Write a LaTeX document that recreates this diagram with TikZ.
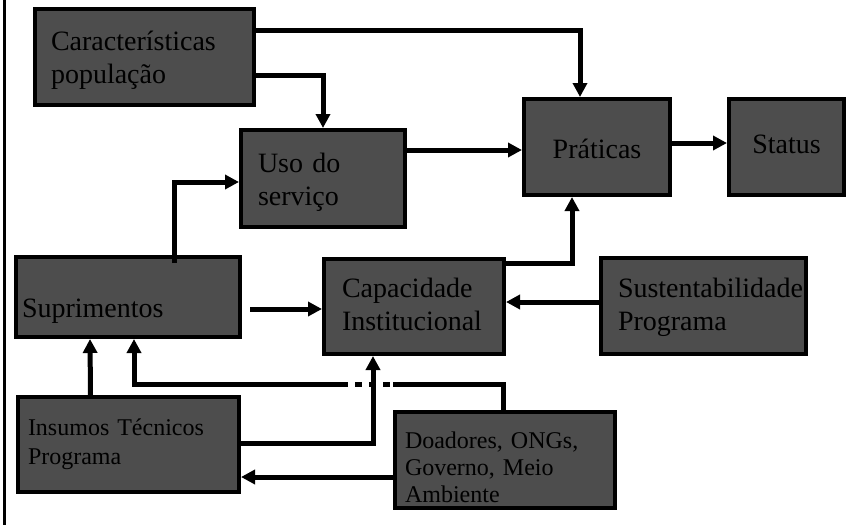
\documentclass[tikz,border=0pt]{standalone}
\usepackage{fontspec}
\setmainfont{Liberation Serif}
\usetikzlibrary{arrows.meta}
\definecolor{boxgray}{HTML}{4D4D4D}

\begin{document}
\begin{tikzpicture}[x=1pt,y=-1pt]

\tikzstyle{box}=[draw=black, line width=4pt, fill=boxgray, anchor=north west, align=left, inner ysep=0pt, text height=0pt, text depth=0pt, font=\fontsize{28}{33}\selectfont]
\tikzstyle{smallbox}=[box, font=\fontsize{24}{29}\selectfont]
\tikzstyle{conn}=[line width=5pt, -{Triangle[length=14pt,width=14pt]}]
\tikzstyle{gapline}=[white, line width=6pt, dash pattern=on 7pt off 7pt]

\useasboundingbox (0,0) rectangle (852,525);
\draw[line width=3pt] (4,0) -- (4,525);

\node[box, minimum width=219pt, minimum height=96pt, inner xsep=16pt, text width=187pt, text depth=14pt] (car) at (33,7) {Características\\população};
\node[box, minimum width=164pt, minimum height=97pt, inner xsep=17pt, text width=130pt, text depth=13pt] (uso) at (239,128) {Uso do\\serviço};
\node[box, minimum width=146pt, minimum height=96pt, align=center, text height=22pt] (pra) at (522,97) {Práticas};
\node[box, minimum width=115pt, minimum height=96pt, align=center, text height=12pt] (sta) at (727,97) {Status};
\node[box, minimum width=224pt, minimum height=80pt, inner xsep=6pt, text width=212pt, text height=40pt] (sup) at (14,255) {Suprimentos};
\node[box, minimum width=180pt, minimum height=95pt, inner xsep=18pt, text width=144pt, text depth=19pt] (cap) at (322,257) {Capacidade\\Institucional};
\node[box, minimum width=205pt, minimum height=96pt, inner xsep=17pt, text width=171pt, text depth=18pt] (sus) at (599,256) {\mbox{Sustentabilidade}\\Programa};
\node[smallbox, minimum width=221pt, minimum height=95pt, inner xsep=10pt, text width=201pt, text depth=19pt] (ins) at (16,395) {Insumos Técnicos\\Programa};
\node[smallbox, font=\fontsize{24}{27}\selectfont, minimum width=220pt, minimum height=96pt, inner xsep=10pt, text width=200pt, text depth=24pt] (doa) at (393,410) {Doadores, ONGs,\\Governo, Meio\\Ambiente};

\draw[conn] ([yshift=27pt]car.east) -| ([xshift=-17pt]pra.north);
\draw[conn] ([yshift=-18pt]car.east) -| (uso.north);
\draw[conn] ([yshift=28.5pt]uso.east) -- ([yshift=-3pt]pra.west);
\draw[conn] ([yshift=4pt]pra.east) -- ([yshift=4pt]sta.west);
\draw[conn] ([xshift=46pt,yshift=-8pt]sup.north) |- ([yshift=-3.5pt]uso.west);
\draw[conn] ([xshift=8pt,yshift=-12pt]sup.east) -- ([yshift=-2.5pt]cap.west);
\draw[conn] ([yshift=43.5pt]cap.east) -| ([xshift=-25pt]pra.south);
\draw[conn] ([yshift=4pt]sus.west) -- ([yshift=4.5pt]cap.east);
\draw[conn] ([xshift=-38pt]ins.north) -- ([xshift=-38pt]sup.south);
\draw[conn] ([xshift=-2pt]doa.north) -- ++(0,-26) -| ([xshift=6pt]sup.south);
\draw[gapline] ([xshift=-45pt,yshift=26pt]doa.north west) -- ([yshift=26pt]doa.north west);
\draw[conn] ([yshift=1.5pt]ins.east) -| ([xshift=-41pt]cap.south);
\draw[conn] ([yshift=-17pt]doa.west) -- ([yshift=-32.5pt]ins.east);
\end{tikzpicture}
\end{document}
